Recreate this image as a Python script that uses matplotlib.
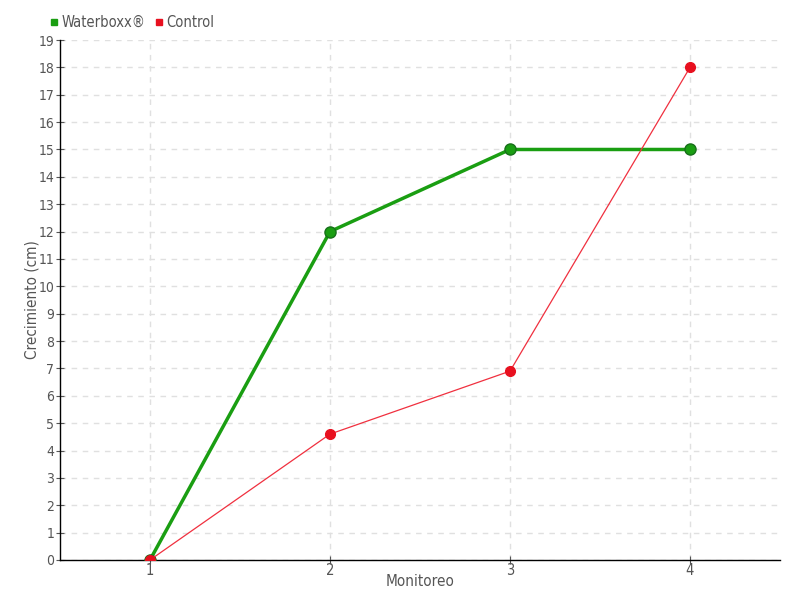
import matplotlib.pyplot as plt
from matplotlib.lines import Line2D

# data
monitoreo = [1, 2, 3, 4]
waterboxx = [0, 12, 15, 15]
control = [0, 4.6, 6.9, 18]

plt.rcParams['font.family'] = ['DejaVu Sans']
plt.rcParams['font.stretch'] = 'condensed'
plt.rcParams['font.weight'] = 'light'
text_color = '#555555'

fig = plt.figure(figsize=(8, 6), dpi=100)
ax = fig.add_axes([0.075, 0.0667, 0.9, 0.8666])

ax.plot(monitoreo, waterboxx, color='#1a9e12', linewidth=2.5, marker='o',
        markersize=8, markerfacecolor='#1a9e12', markeredgecolor='#17701a',
        markeredgewidth=1, zorder=3)
ax.plot(monitoreo, control, color='#f0303f', linewidth=0.9, marker='o',
        markersize=7, markerfacecolor='#e8101f', markeredgecolor='#e8101f',
        zorder=4)

ax.set_xlim(0.5, 4.5)
ax.set_ylim(0, 19)
ax.set_xticks(monitoreo)
ax.set_yticks(range(0, 20))

ax.grid(True, color='#e0e0e0', linestyle=(0, (4, 4)), linewidth=1)
ax.set_axisbelow(True)

for s in ['top', 'right']:
    ax.spines[s].set_visible(False)
for s in ['left', 'bottom']:
    ax.spines[s].set_color('black')
    ax.spines[s].set_linewidth(1)

ax.tick_params(axis='y', direction='inout', length=6, colors=text_color,
               labelsize=10, pad=1)
ax.tick_params(axis='x', direction='inout', length=6, colors=text_color,
               labelsize=10.5, pad=-1)
for t in ax.get_yticklines() + ax.get_xticklines():
    t.set_color('black')

ax.set_xlabel('Monitoreo', color=text_color, fontsize=11, labelpad=-3)
ax.set_ylabel('Crecimiento (cm)', color=text_color, fontsize=11)
ax.yaxis.set_label_coords(-0.029, 0.5)

handles = [
    Line2D([], [], linestyle='none', marker='s', markersize=5,
           color='#1a9e12', label='Waterboxx®'),
    Line2D([], [], linestyle='none', marker='s', markersize=5,
           color='#e8101f', label='Control'),
]
fig.legend(handles=handles, loc='upper left', bbox_to_anchor=(0.055, 0.985),
           ncol=2, frameon=False, fontsize=10.5, handlelength=0.6,
           handletextpad=0.2, columnspacing=0.6, labelcolor=text_color,
           borderaxespad=0)

fig.savefig('out.png', dpi=100)
